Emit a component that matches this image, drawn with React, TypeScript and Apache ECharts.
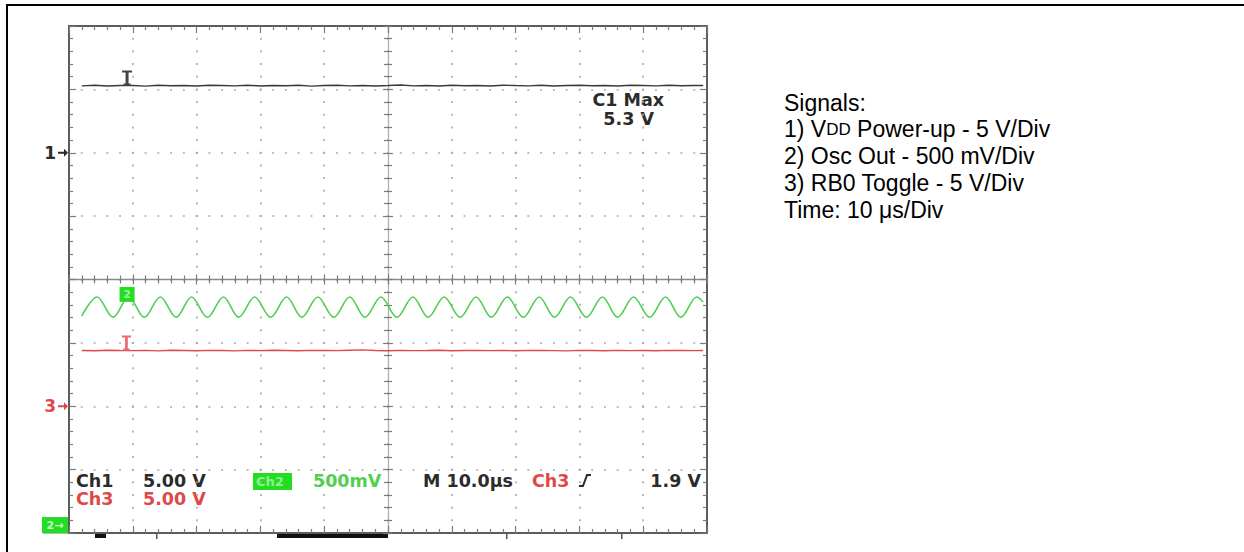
import React, { useEffect, useRef } from "react";
import * as echarts from "echarts";

// ---- time axis (µs), 10 µs / div, 10 divisions ----
const timeMin = 0;
const timeMax = 100;
const timeDiv = 10;
// ---- vertical screen divisions ----
const divMin = -4;
const divMax = 4;

// channel settings: volts per division and ground offset (divisions from centre)
const ch1Scale = 5;
const ch1Offset = 2;
const ch2Scale = 0.5;
const ch2Offset = -3.875;
const ch3Scale = 5;
const ch3Offset = -2;

// Ch1: VDD power-up (V)
const ch1Time = [2, 4, 6, 8, 10, 12, 14, 16, 18, 20, 22, 24, 26, 28, 30, 32, 34, 36, 38, 40, 42, 44, 46, 48, 50, 52, 54, 56, 58, 60, 62, 64, 66, 68, 70, 72, 74, 76, 78, 80, 82, 84, 86, 88, 90, 92, 94, 96, 98, 99.4];
const ch1Volts = [5.28, 5.32, 5.27, 5.31, 5.3, 5.26, 5.33, 5.29, 5.31, 5.27, 5.32, 5.3, 5.28, 5.33, 5.27, 5.31, 5.29, 5.32, 5.26, 5.3, 5.33, 5.28, 5.31, 5.27, 5.3, 5.34, 5.28, 5.31, 5.27, 5.32, 5.29, 5.31, 5.27, 5.33, 5.3, 5.28, 5.32, 5.27, 5.3, 5.33, 5.29, 5.31, 5.27, 5.32, 5.3, 5.28, 5.33, 5.29, 5.31, 5.3];

// Ch2: oscillator output (V), peaks and troughs
const ch2Time = [2, 4.4, 6.9, 9.35, 11.8, 14.3, 16.8, 19.2, 21.7, 24.2, 26.6, 29.1, 31.6, 34.1, 36.5, 39, 41.5, 44, 46.4, 48.9, 51.4, 53.9, 56.3, 58.8, 61.3, 63.8, 66.2, 68.7, 71.2, 73.7, 76.1, 78.6, 81.1, 83.6, 86, 88.5, 91, 93.5, 95.9, 98.4, 99.4];
const ch2Volts = [1.65, 1.8, 1.64, 1.8, 1.64, 1.8, 1.64, 1.8, 1.64, 1.8, 1.64, 1.8, 1.64, 1.8, 1.64, 1.8, 1.64, 1.8, 1.64, 1.8, 1.64, 1.8, 1.64, 1.8, 1.64, 1.8, 1.64, 1.8, 1.64, 1.8, 1.64, 1.8, 1.64, 1.8, 1.64, 1.8, 1.64, 1.8, 1.64, 1.8, 1.76];

// Ch3: RB0 toggle (V)
const ch3Time = [2, 4, 6, 8, 10, 12, 14, 16, 18, 20, 22, 24, 26, 28, 30, 32, 34, 36, 38, 40, 42, 44, 46, 48, 50, 52, 54, 56, 58, 60, 62, 64, 66, 68, 70, 72, 74, 76, 78, 80, 82, 84, 86, 88, 90, 92, 94, 96, 98, 99.4];
const ch3Volts = [4.4, 4.38, 4.42, 4.4, 4.39, 4.41, 4.37, 4.42, 4.4, 4.38, 4.41, 4.4, 4.37, 4.41, 4.39, 4.42, 4.4, 4.38, 4.41, 4.4, 4.39, 4.42, 4.45, 4.4, 4.38, 4.41, 4.39, 4.4, 4.42, 4.38, 4.4, 4.41, 4.39, 4.4, 4.38, 4.41, 4.4, 4.39, 4.37, 4.41, 4.4, 4.38, 4.41, 4.39, 4.4, 4.38, 4.41, 4.4, 4.39, 4.4];

// on-trace channel markers [time µs, volts]
const ch1MarkerAt = [9.1, 5.3];
const ch2MarkerAt = [9.1, 1.82];
const ch3MarkerAt = [9.0, 4.4];

// readouts
const maxLabel = "C1 Max";
const maxValue = "5.3 V";
const readoutRow1 = ["Ch1", "5.00 V", "Ch2", "500mV", "M 10.0\u00b5s", "Ch3", "1.9 V"];
const readoutRow2 = ["Ch3", "5.00 V"];
const noteLines = ["Signals:", "1) V{s|DD} Power-up - 5 V/Div", "2) Osc Out - 500 mV/Div", "3) RB0 Toggle - 5 V/Div", "Time: 10 \u03bcs/Div"];

const toDiv = (v: number, scale: number, off: number) => off + v / scale;

const GRID = { left: 69, top: 26, width: 638, height: 507 };
const DOT = "#a9a9a9";
const EDGE = "#5c5c5c";
const TICK = "#7a7a7a";
const GREEN = "#4fd04f";
const GREEN_BOX = "#22dd22";
const RED = "#e04848";
const BLACK = "#2b2b2b";
const SCOPE_FONT = '"DejaVu Sans", sans-serif';
const NOTE_FONT = '"Liberation Sans", Arial, sans-serif';

function xAxisDef(position: string, opts: any) {
  return {
    type: "value",
    min: timeMin,
    max: timeMax,
    interval: timeDiv,
    position,
    offset: opts.offset || 0,
    axisLine: { show: opts.line !== false, onZero: false, lineStyle: { color: opts.lineColor || EDGE, width: opts.lineWidth || 2 } },
    axisTick: { show: true, inside: opts.inside !== false, length: opts.major || 7, lineStyle: { color: TICK, width: 1.2 } },
    minorTick: { show: true, splitNumber: 5, length: opts.minor || 4, lineStyle: { color: TICK, width: 1.2 } },
    axisLabel: { show: false },
    splitLine: opts.split
      ? { show: true, lineStyle: { color: DOT, width: 1.6, type: [2, 10.675], dashOffset: 1 } }
      : { show: false },
  };
}

function yAxisDef(position: string, opts: any) {
  return {
    type: "value",
    min: divMin,
    max: divMax,
    interval: 1,
    position,
    offset: opts.offset || 0,
    axisLine: { show: opts.line !== false, onZero: false, lineStyle: { color: opts.lineColor || EDGE, width: opts.lineWidth || 2 } },
    axisTick: { show: true, inside: opts.inside !== false, length: opts.major || 7, lineStyle: { color: TICK, width: 1.2 } },
    minorTick: { show: true, splitNumber: 5, length: opts.minor || 4, lineStyle: { color: TICK, width: 1.2 } },
    axisLabel: { show: false },
    splitLine: opts.split
      ? { show: true, lineStyle: { color: DOT, width: 1.6, type: [2, 10.76], dashOffset: 1 } }
      : { show: false },
  };
}

const iBeam = "path://M0,0H10V2H6.5V13H8.5V15H1.5V13H3.5V2H0Z";
const arrow = "path://M0,3H6V0L10,4L6,8V5H0Z";

export default function App() {
  const ref = useRef<HTMLDivElement>(null);
  useEffect(() => {
    document.body.style.margin = "0";
    if (!ref.current) return;
    const chart = echarts.init(ref.current, undefined, { renderer: "svg" });

    const ch1Data = ch1Time.map((t, i) => [t, toDiv(ch1Volts[i], ch1Scale, ch1Offset)]);
    const ch2Data = ch2Time.map((t, i) => [t, toDiv(ch2Volts[i], ch2Scale, ch2Offset)]);
    const ch3Data = ch3Time.map((t, i) => [t, toDiv(ch3Volts[i], ch3Scale, ch3Offset)]);

    const halfH = GRID.height / 2;
    const halfW = GRID.width / 2;

    const txt = (x: number, y: number, text: string, fill: string, extra: any = {}) => ({
      type: "text",
      x,
      y,
      silent: true,
      style: {
        text,
        fill,
        font: `bold 17.5px ${SCOPE_FONT}`,
        textAlign: "left",
        textVerticalAlign: "middle",
        align: "left",
        verticalAlign: "middle",
        ...extra,
      },
    });
    const right = { textAlign: "right", align: "right" };

    const graphics: any[] = [
      // outer frame (top and left)
      { type: "rect", shape: { x: 6, y: 4, width: 1238, height: 2 }, style: { fill: "#000" }, silent: true },
      { type: "rect", shape: { x: 6, y: 4, width: 2, height: 548 }, style: { fill: "#000" }, silent: true },
      // bottom scope bar remnants
      { type: "rect", shape: { x: 43, y: 532, width: 27, height: 1.5 }, style: { fill: "#777" }, silent: true },
      { type: "rect", shape: { x: 95, y: 533, width: 11, height: 5 }, style: { fill: "#111" }, silent: true },
      { type: "rect", shape: { x: 277, y: 534, width: 111, height: 4 }, style: { fill: "#111" }, silent: true },
      { type: "rect", shape: { x: 156, y: 533, width: 1.5, height: 6 }, style: { fill: "#555" }, silent: true },
      { type: "rect", shape: { x: 506, y: 533, width: 1.5, height: 6 }, style: { fill: "#555" }, silent: true },
      { type: "rect", shape: { x: 621, y: 533, width: 1.5, height: 6 }, style: { fill: "#555" }, silent: true },
      // C1 Max readout
      txt(664, 99.5, maxLabel, BLACK, right),
      txt(654, 118.5, maxValue, BLACK, right),
      // bottom readouts, row 1
      txt(76, 480.5, readoutRow1[0], BLACK),
      txt(143, 480.5, readoutRow1[1], BLACK),
      { type: "rect", shape: { x: 253, y: 473, width: 39, height: 17 }, style: { fill: GREEN_BOX }, silent: true },
      txt(256, 481.5, readoutRow1[2], "#8ff08f", { font: `bold 13px ${SCOPE_FONT}` }),
      txt(313, 480.5, readoutRow1[3], GREEN),
      txt(423, 480.5, readoutRow1[4], BLACK),
      txt(532, 480.5, readoutRow1[5], RED),
      { type: "polyline", shape: { points: [[579, 486], [583, 486], [587, 475], [591, 475]] }, style: { stroke: BLACK, lineWidth: 2, fill: "none" }, silent: true },
      txt(701, 480.5, readoutRow1[6], BLACK, right),
      // row 2
      txt(76, 499, readoutRow2[0], RED),
      txt(143, 499, readoutRow2[1], RED),
    ];

    // right-hand notes
    noteLines.forEach((line, i) => {
      graphics.push({
        type: "text",
        x: 784,
        y: 102.5 + i * 26.9,
        silent: true,
        style: {
          text: line,
          fill: "#000",
          font: `23px ${NOTE_FONT}`,
          textAlign: "left",
          textVerticalAlign: "middle",
          align: "left",
          verticalAlign: "middle",
          rich: { s: { fontSize: 17, fontFamily: NOTE_FONT, fill: "#000", color: "#000" } },
        },
      });
    });

    const option: any = {
      animation: false,
      backgroundColor: "#ffffff",
      grid: { left: GRID.left, top: GRID.top, width: GRID.width, height: GRID.height, containLabel: false, show: false },
      xAxis: [
        xAxisDef("bottom", { split: true }),
        xAxisDef("top", {}),
        xAxisDef("bottom", { offset: -halfH, lineColor: "#8a8a8a", lineWidth: 1.3, major: 5, minor: 4 }),
        xAxisDef("bottom", { offset: -halfH, line: false, inside: false, major: 5, minor: 4 }),
      ],
      yAxis: [
        yAxisDef("left", { split: true }),
        yAxisDef("right", {}),
        yAxisDef("left", { offset: -halfW, lineColor: "#b0b0b0", lineWidth: 1.3, major: 5, minor: 4 }),
        yAxisDef("left", { offset: -halfW, line: false, inside: false, major: 5, minor: 4 }),
      ],
      series: [
        {
          name: "Ch3",
          type: "line",
          data: ch3Data,
          showSymbol: false,
          symbol: "none",
          lineStyle: { color: RED, width: 1.4 },
          markPoint: {
            silent: true,
            data: [
              {
                coord: [ch3MarkerAt[0], toDiv(ch3MarkerAt[1], ch3Scale, ch3Offset)],
                symbol: iBeam,
                symbolSize: [9, 15],
                symbolOffset: [0, -7.5],
                itemStyle: { color: "#e86a6a" },
                label: { show: false },
              },
              {
                coord: [timeMin, ch3Offset],
                symbol: arrow,
                symbolSize: [10, 8],
                symbolOffset: [-6, 0],
                itemStyle: { color: RED },
                label: { show: true, position: "left", distance: 2, formatter: "3", color: RED, fontSize: 17, fontWeight: "bold", fontFamily: SCOPE_FONT },
              },
            ],
          },
        },
        {
          name: "Ch2",
          type: "line",
          data: ch2Data,
          smooth: 0.35,
          showSymbol: false,
          symbol: "none",
          lineStyle: { color: GREEN, width: 1.6 },
          markPoint: {
            silent: true,
            data: [
              {
                coord: [ch2MarkerAt[0], toDiv(ch2MarkerAt[1], ch2Scale, ch2Offset)],
                symbol: "rect",
                symbolSize: [15, 15],
                itemStyle: { color: GREEN_BOX },
                label: { show: true, position: "inside", formatter: "2", color: "#9df59d", fontSize: 11, fontWeight: "bold", fontFamily: SCOPE_FONT },
              },
              {
                coord: [timeMin, ch2Offset],
                symbol: "rect",
                symbolSize: [26, 16],
                symbolOffset: [-14, 0],
                itemStyle: { color: GREEN_BOX },
                label: { show: true, position: "inside", formatter: "2\u2192", color: "#c8ffc8", fontSize: 11, fontWeight: "bold", fontFamily: SCOPE_FONT },
              },
            ],
          },
        },
        {
          name: "Ch1",
          type: "line",
          data: ch1Data,
          showSymbol: false,
          symbol: "none",
          lineStyle: { color: "#3a3a3a", width: 1.4 },
          markPoint: {
            silent: true,
            data: [
              {
                coord: [ch1MarkerAt[0], toDiv(ch1MarkerAt[1], ch1Scale, ch1Offset)],
                symbol: iBeam,
                symbolSize: [10, 15],
                symbolOffset: [0, -7.5],
                itemStyle: { color: "#444" },
                label: { show: false },
              },
              {
                coord: [timeMin, ch1Offset],
                symbol: arrow,
                symbolSize: [10, 8],
                symbolOffset: [-6, 0],
                itemStyle: { color: BLACK },
                label: { show: true, position: "left", distance: 2, formatter: "1", color: BLACK, fontSize: 17, fontWeight: "bold", fontFamily: SCOPE_FONT },
              },
            ],
          },
        },
      ],
      graphic: graphics,
    };
    chart.setOption(option);
    return () => chart.dispose();
  }, []);
  return <div ref={ref} style={{ width: 1244, height: 552 }} />;
}
